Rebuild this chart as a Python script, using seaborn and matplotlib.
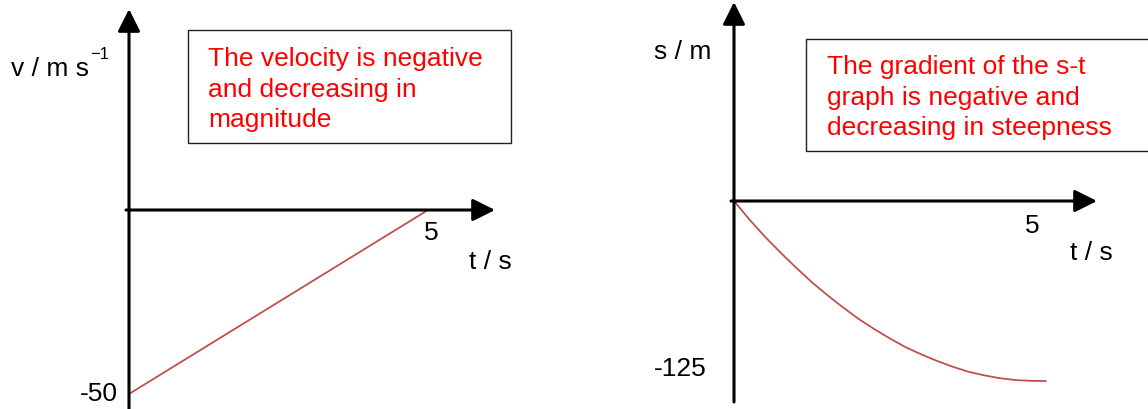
import numpy as np
import pandas as pd
import matplotlib
matplotlib.use("Agg")
import matplotlib.pyplot as plt
from matplotlib.patches import Rectangle
import seaborn as sns

# 数据：数值
t_v = [0, 5]
v_vals = [-50, 0]

t_s = [0, 0.25, 0.5, 0.75, 1, 1.25, 1.5, 1.75, 2, 2.25, 2.5,
       2.75, 3, 3.25, 3.5, 3.75, 4, 4.25, 4.5, 4.75, 5]
s_vals = [0, -13, -25, -36, -46.5, -56.5, -65.5, -74, -82, -89, -95.5,
          -101.5, -106.5, -111, -115, -118.5, -121, -123, -124.3, -124.9, -125]

v_ticks = ["5", "-50"]
s_ticks = ["5", "-125"]
box_left = ["The velocity is negative", "and decreasing in", "magnitude"]
box_right = ["The gradient of the s-t", "graph is negative and", "decreasing in steepness"]

sns.set_theme(style="white")
plt.rcParams['font.family'] = ['Liberation Sans', 'DejaVu Sans']
plt.rcParams['text.color'] = 'black'

W, H = 1148, 410
fig = plt.figure(figsize=(W / 100, H / 100), dpi=100)

def fx(x):
    return x / W

def fy(y):
    return 1 - y / H

line_col = "#c0504d"
fs = 19

def make_axes(left, right, top, bottom, x0, y0, sx, sy):
    # 像素位置 -> 坐标轴
    ax = fig.add_axes([fx(left), fy(bottom), (right - left) / W, (bottom - top) / H])
    ax.set_xlim((left - x0) / sx, (right - x0) / sx)
    ax.set_ylim(-(bottom - y0) / sy, (y0 - top) / sy)
    ax.set_facecolor("none")
    for sp in ax.spines.values():
        sp.set_visible(False)
    # 坐标轴箭头
    ax.annotate("", xy=(1, 0), xycoords=("axes fraction", "data"),
                xytext=(0, 0), textcoords=("axes fraction", "data"),
                arrowprops=dict(arrowstyle="-|>", lw=2.2, color="black",
                                mutation_scale=34, shrinkA=0, shrinkB=0))
    ax.annotate("", xy=(0, 1), xycoords=("data", "axes fraction"),
                xytext=(0, 0), textcoords=("data", "axes fraction"),
                arrowprops=dict(arrowstyle="-|>", lw=2.2, color="black",
                                mutation_scale=34, shrinkA=0, shrinkB=0))
    return ax

# 左图 v-t
ax1 = make_axes(126, 495, 10, 410, 129, 211, 59.8, 3.68)
df_v = pd.DataFrame({"t": t_v, "v": v_vals})
sns.lineplot(data=df_v, x="t", y="v", ax=ax1, color=line_col, lw=1.3)
ax1.set_xlabel("")
ax1.set_ylabel("")
ax1.set_xticks([])
ax1.set_yticks([])

# 右图 s-t
ax2 = make_axes(731, 1097, 3, 403, 734, 202, 62.4, 1.44)
df_s = pd.DataFrame({"t": t_s, "s": s_vals})
sns.lineplot(data=df_s, x="t", y="s", ax=ax2, color=line_col, lw=1.3)
ax2.set_xlabel("")
ax2.set_ylabel("")
ax2.set_xticks([])
ax2.set_yticks([])

# 文字
fig.text(fx(11), fy(76), "v / m s", fontsize=fs, va="baseline")
fig.text(fx(90), fy(59), "\u22121", fontsize=12, va="baseline")
fig.text(fx(431), fy(240), v_ticks[0], fontsize=fs, ha="center", va="baseline")
fig.text(fx(469), fy(269), "t / s", fontsize=fs, va="baseline")
fig.text(fx(118), fy(401), v_ticks[1], fontsize=fs, ha="right", va="baseline")

fig.text(fx(654), fy(59), "s / m", fontsize=fs, va="baseline")
fig.text(fx(1032), fy(233), s_ticks[0], fontsize=fs, ha="center", va="baseline")
fig.text(fx(1070), fy(260), "t / s", fontsize=fs, va="baseline")
fig.text(fx(654), fy(376), s_ticks[1], fontsize=fs, va="baseline")

# 文本框
fig.patches.append(Rectangle((fx(188), fy(144)), (511 - 188) / W, (144 - 31) / H,
                             transform=fig.transFigure, fill=False,
                             edgecolor="#222222", lw=1.0))
fig.patches.append(Rectangle((fx(806), fy(152)), (1160 - 806) / W, (152 - 40) / H,
                             transform=fig.transFigure, fill=False,
                             edgecolor="#222222", lw=1.0))

for i, line in enumerate(box_left):
    fig.text(fx(208), fy(66 + i * 30.5), line, fontsize=fs, color="red", va="baseline")
for i, line in enumerate(box_right):
    fig.text(fx(827), fy(74 + i * 30.5), line, fontsize=fs, color="red", va="baseline")

fig.savefig("out.png", dpi=100)
